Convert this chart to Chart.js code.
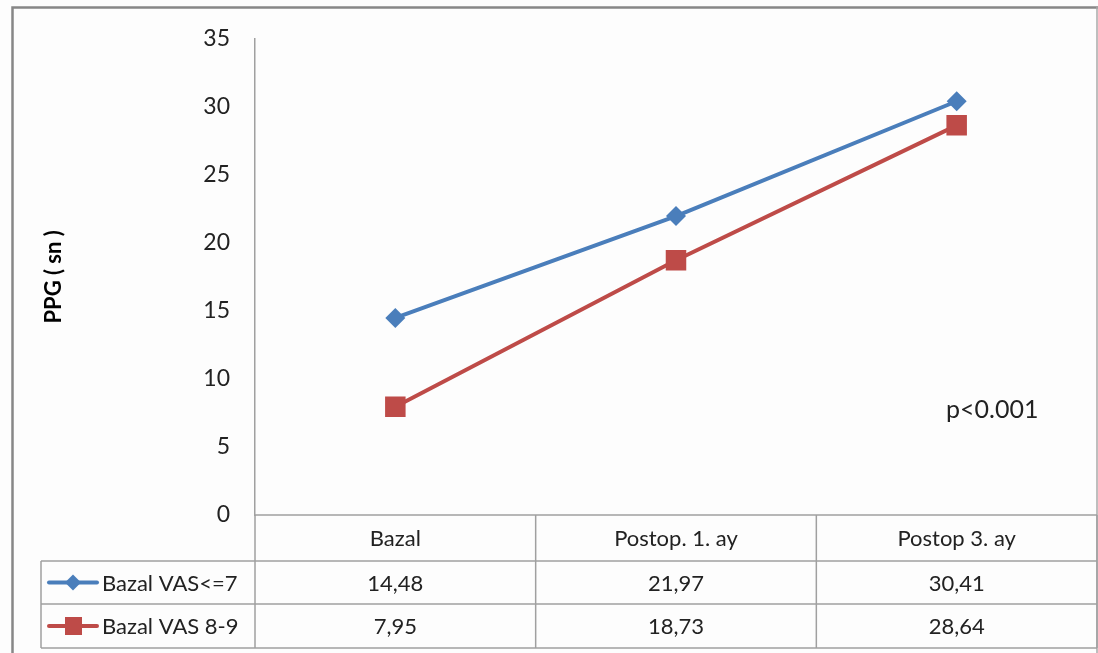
<!DOCTYPE html>
<html>
<head>
<meta charset="utf-8">
<script src="https://cdn.jsdelivr.net/npm/chart.js@4/dist/chart.umd.min.js"></script>
<style>
  html, body { margin: 0; padding: 0; background: #fff; }
  #wrap { width: 1098px; height: 653px; position: relative; }
</style>
</head>
<body>
<div id="wrap"><canvas id="c" width="1098" height="653"></canvas></div>
<script>
// Time points and PPG values (seconds) per pain group
const categories = ['Bazal', 'Postop. 1. ay', 'Postop 3. ay'];
const vasLow = [14.48, 21.97, 30.41];   // Bazal VAS<=7
const vasHigh = [7.95, 18.73, 28.64];   // Bazal VAS 8-9
const seriesNames = ['Bazal VAS<=7', 'Bazal VAS 8-9'];
const yTicks = [0, 5, 10, 15, 20, 25, 30, 35];
const annotation = 'p<0.001';

const FONT = 'Lato, "Open Sans", sans-serif';
const BLUE = '#4A7EBB';
const RED = '#BE4B48';
const GRID = '#A0A0A0';

// Outer frame around the whole figure
const framePlugin = {
  id: 'frame',
  beforeDraw(chart) {
    const ctx = chart.ctx;
    ctx.save();
    ctx.fillStyle = '#fdfdfd';
    ctx.fillRect(0, 0, chart.width, chart.height);
    ctx.strokeStyle = '#878787';
    ctx.lineWidth = 2.5;
    ctx.beginPath();
    ctx.moveTo(12.5, chart.height + 5);
    ctx.lineTo(12.5, 7.5);
    ctx.lineTo(chart.width, 7.5);
    ctx.stroke();
    ctx.strokeStyle = '#a8a8a8';
    ctx.lineWidth = 1.5;
    ctx.beginPath();
    ctx.moveTo(chart.width - 1, 7);
    ctx.lineTo(chart.width - 1, chart.height);
    ctx.stroke();
    ctx.restore();
  }
};

// Data table under the plot: category header, one row per series with legend key
const tablePlugin = {
  id: 'dataTable',
  afterDraw(chart) {
    const ctx = chart.ctx;
    const area = chart.chartArea;
    const xs = chart.scales.x;
    const top = area.bottom;
    const rowH = [46, 43, 44];
    const y1 = top + rowH[0];
    const y2 = y1 + rowH[1];
    const y3 = y2 + rowH[2];
    const legendLeft = 41;
    const half = (xs.getPixelForValue(1) - xs.getPixelForValue(0)) / 2;
    const bounds = [area.left];
    categories.forEach((c, i) => bounds.push(xs.getPixelForValue(i) + half));
    bounds[bounds.length - 1] = area.right;

    ctx.save();
    ctx.strokeStyle = GRID;
    ctx.lineWidth = 1.5;
    ctx.beginPath();
    // axis line / header top
    ctx.moveTo(area.left, top); ctx.lineTo(area.right, top);
    [y1, y2, y3].forEach(y => { ctx.moveTo(legendLeft, y); ctx.lineTo(area.right, y); });
    bounds.forEach(x => { ctx.moveTo(x, top); ctx.lineTo(x, y3); });
    ctx.moveTo(legendLeft, y1); ctx.lineTo(legendLeft, y3);
    ctx.stroke();

    ctx.fillStyle = '#222';
    ctx.font = '22px ' + FONT;
    ctx.textAlign = 'center';
    ctx.textBaseline = 'middle';
    categories.forEach((c, i) => ctx.fillText(c, xs.getPixelForValue(i), top + rowH[0] / 2 + 1));

    const rows = [vasLow, vasHigh];
    const rowMid = [y1 + rowH[1] / 2, y2 + rowH[2] / 2];
    rows.forEach((vals, r) => {
      vals.forEach((v, i) => {
        ctx.fillText(v.toFixed(2).replace('.', ','), xs.getPixelForValue(i), rowMid[r] + 1);
      });
    });

    // legend keys
    chart.data.datasets.forEach((ds, r) => {
      const cy = rowMid[r];
      ctx.strokeStyle = ds.borderColor;
      ctx.lineWidth = 4;
      ctx.lineCap = 'round';
      ctx.beginPath();
      ctx.moveTo(49, cy); ctx.lineTo(97, cy);
      ctx.stroke();
      ctx.fillStyle = ds.pointBackgroundColor;
      if (ds.pointStyle === 'rectRot') {
        const s = 8;
        ctx.beginPath();
        ctx.moveTo(73 - s, cy); ctx.lineTo(73, cy - s); ctx.lineTo(73 + s, cy); ctx.lineTo(73, cy + s);
        ctx.closePath(); ctx.fill();
      } else {
        ctx.fillRect(73 - 8, cy - 9, 17, 18);
      }
      ctx.fillStyle = '#222';
      ctx.textAlign = 'left';
      ctx.fillText(seriesNames[r], 102, cy + 1);
      ctx.textAlign = 'center';
    });

    // significance note
    ctx.font = '25px ' + FONT;
    ctx.textAlign = 'left';
    ctx.fillText(annotation, 946, 410);
    ctx.restore();
  }
};

new Chart(document.getElementById('c'), {
  type: 'line',
  data: {
    labels: categories,
    datasets: [
      {
        label: seriesNames[0],
        data: vasLow,
        borderColor: BLUE,
        backgroundColor: BLUE,
        pointBackgroundColor: BLUE,
        pointBorderColor: BLUE,
        borderWidth: 4,
        pointStyle: 'rectRot',
        pointRadius: 10,
        pointBorderWidth: 0,
        tension: 0
      },
      {
        label: seriesNames[1],
        data: vasHigh,
        borderColor: RED,
        backgroundColor: RED,
        pointBackgroundColor: RED,
        pointBorderColor: RED,
        borderWidth: 4,
        pointStyle: 'rect',
        pointRadius: 14.5,
        pointBorderWidth: 0,
        tension: 0
      }
    ]
  },
  plugins: [framePlugin, tablePlugin],
  options: {
    responsive: false,
    animation: false,
    events: [],
    layout: { autoPadding: false, padding: { left: 0, top: 38, right: 1, bottom: 138 } },
    plugins: { legend: { display: false }, tooltip: { enabled: false } },
    scales: {
      x: {
        type: 'category',
        display: false,
        offset: true
      },
      y: {
        min: 0,
        max: 35,
        afterBuildTicks(scale) { scale.ticks = yTicks.map(v => ({ value: v })); },
        afterFit(scale) { scale.width = 255; },
        grid: { display: false, drawTicks: false },
        border: { display: true, color: GRID, width: 1.5 },
        ticks: {
          padding: 25,
          color: '#222',
          font: { family: FONT, size: 23 }
        },
        title: {
          display: true,
          text: 'PPG ( sn )',
          color: '#000',
          font: { family: FONT, size: 22, weight: 'bold' },
          padding: { top: 41, bottom: 0 }
        }
      }
    }
  }
});
</script>
</body>
</html>
